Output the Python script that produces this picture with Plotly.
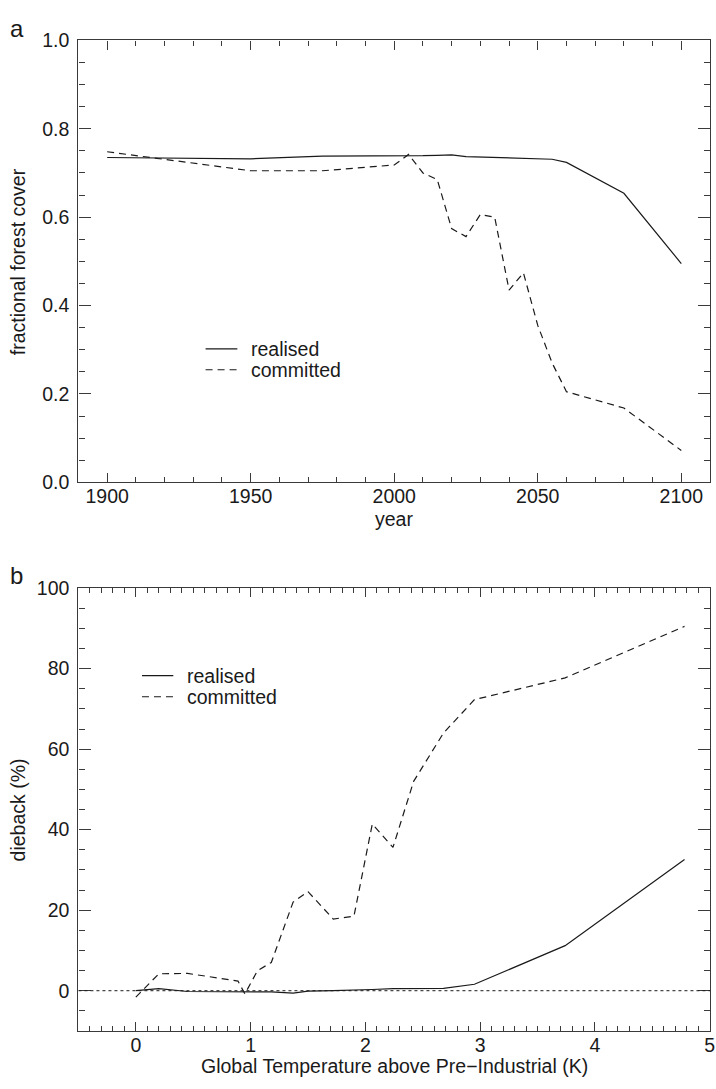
import plotly.graph_objects as go

# ---- panel a: forest cover through time ----
years = [1900, 1950, 1975, 2000, 2005, 2010, 2015, 2020, 2025, 2030,
         2035, 2040, 2045, 2050, 2055, 2060, 2080, 2100]
cover_realised = [0.735, 0.732, 0.738, 0.738, 0.739, 0.739, 0.740, 0.741, 0.737, 0.736,
                  0.736, 0.735, 0.733, 0.733, 0.731, 0.724, 0.654, 0.495]
cover_committed = [0.748, 0.705, 0.705, 0.718, 0.742, 0.700, 0.685, 0.574, 0.556, 0.606,
                   0.600, 0.435, 0.474, 0.355, 0.270, 0.205, 0.168, 0.072]

# ---- panel b: dieback against global warming ----
warming = [0.0, 0.20, 0.45, 0.89, 0.95, 1.06, 1.18, 1.37, 1.50, 1.72,
           1.90, 2.06, 2.24, 2.42, 2.68, 2.95, 3.74, 4.78]
dieback_realised = [0.0, 0.5, -0.2, -0.2, -0.3, -0.3, -0.3, -0.6, -0.1, 0.0,
                    0.1, 0.3, 0.5, 0.5, 0.6, 1.6, 11.2, 32.6]
dieback_committed = [-1.6, 4.2, 4.3, 2.4, -0.8, 5.0, 7.0, 22.0, 24.6, 17.8,
                     18.5, 41.4, 35.6, 52.0, 64.0, 72.3, 77.7, 90.5]

year_ticks = [1900, 1950, 2000, 2050, 2100]
cover_ticks = [0.0, 0.2, 0.4, 0.6, 0.8, 1.0]
warming_ticks = [0, 1, 2, 3, 4, 5]
dieback_ticks = [0, 20, 40, 60, 80, 100]

FONT = "Liberation Sans, Arial, Helvetica, sans-serif"
FS = 19.5
INK = "#1a1a1a"
AXIS = "#3a3a3a"
DASH = "7px,5px"

W, H = 716, 1089
X0, X1 = 79, 715           # plot area, left/right in px
A_TOP, A_BOT = 30, 481     # panel a, top/bottom in px
B_TOP, B_BOT = 589, 1041   # panel b

fig = go.Figure()

fig.add_trace(go.Scatter(x=years, y=cover_realised, mode="lines", name="realised",
                         line=dict(color=INK, width=1.2), xaxis="x", yaxis="y",
                         showlegend=False))
fig.add_trace(go.Scatter(x=years, y=cover_committed, mode="lines", name="committed",
                         line=dict(color=INK, width=1.2, dash=DASH), xaxis="x", yaxis="y",
                         showlegend=False))
fig.add_trace(go.Scatter(x=warming, y=dieback_realised, mode="lines", name="realised",
                         line=dict(color=INK, width=1.2), xaxis="x2", yaxis="y2",
                         showlegend=False))
fig.add_trace(go.Scatter(x=warming, y=dieback_committed, mode="lines", name="committed",
                         line=dict(color=INK, width=1.2, dash=DASH), xaxis="x2", yaxis="y2",
                         showlegend=False))


xdom = [X0 / W, X1 / W]
ydom_a = [1 - A_BOT / H, 1 - A_TOP / H]
ydom_b = [1 - B_BOT / H, 1 - B_TOP / H]

common = dict(
    showline=True, linecolor=AXIS, linewidth=1.4, mirror="allticks",
    ticks="inside", tickcolor=AXIS, tickwidth=1.2,
    showgrid=False, zeroline=False, ticklabeloverflow="allow",
    tickfont=dict(family=FONT, size=FS, color=INK),
)


def minor(step, length):
    return dict(ticks="inside", dtick=step, tick0=0, ticklen=length,
                tickcolor=AXIS, tickwidth=1.1)


fig.update_layout(
    width=W, height=H,
    margin=dict(l=0, r=0, t=0, b=0),
    paper_bgcolor="white", plot_bgcolor="white",
    font=dict(family=FONT, size=FS, color=INK),
    xaxis=dict(domain=xdom, anchor="y", range=[1890, 2110],
               tickvals=year_ticks, ticklen=9, minor=minor(10, 5),
               ticklabelstandoff=-4, **common),
    yaxis=dict(domain=ydom_a, anchor="x", range=[0, 1.0],
               tickvals=cover_ticks, tickformat=".1f", ticklen=12,
               minor=minor(0.05, 6), ticklabelstandoff=4, **common),
    xaxis2=dict(domain=xdom, anchor="y2", range=[-0.5, 5.002],
                tickvals=warming_ticks, ticklen=9, minor=minor(0.1, 5),
                ticklabelstandoff=-4, **common),
    yaxis2=dict(domain=ydom_b, anchor="x2", range=[-10, 100],
                tickvals=dieback_ticks, ticklen=12,
                minor=minor(5, 6), ticklabelstandoff=4, **common),
)

# dotted zero line in panel b
fig.add_shape(type="line", xref="x2 domain", yref="y2", x0=0, x1=1, y0=0, y1=0,
              line=dict(color=INK, width=1, dash="dot"))

annotations = []


def text(x, y, s, xref="paper", yref="paper", size=FS, xanchor="center",
         yanchor="middle", angle=0, height=None):
    ann = dict(x=x, y=y, xref=xref, yref=yref, text=s, showarrow=False,
               xanchor=xanchor, yanchor=yanchor, textangle=angle, borderpad=0,
               font=dict(family=FONT, size=size, color=INK))
    if height:
        ann["height"] = height
    annotations.append(ann)


# panel letters
text(9 / W, 1 - 18 / H, "a", size=24, xanchor="left")
text(9 / W, 1 - 576 / H, "b", size=24, xanchor="left")

# axis titles
text(18 / W, 1 - (A_TOP + A_BOT) / 2 / H, "fractional forest cover", angle=-90)
text(0.5 * (X0 + X1) / W, 1 - 518 / H, "year")
text(18 / W, 1 - (B_TOP + B_BOT) / 2 / H, "dieback (%)", angle=-90)
text(0.5 * (X0 + X1) / W, 0, "Global Temperature above Pre\u2212Industrial (K)",
     yanchor="bottom")

# legends (drawn inside each panel)
legend_items = [("realised", None), ("committed", DASH)]
legend_pos = {
    ("x", "y"): dict(x0=0.2013, x1=0.2516, xt=0.2712, ys=[0.3020, 0.2547]),
    ("x2", "y2"): dict(x0=0.1006, x1=0.1502, xt=0.1706, ys=[0.8022, 0.7547]),
}
for (xa, ya), p in legend_pos.items():
    for (label, dash), yy in zip(legend_items, p["ys"]):
        line = dict(color=INK, width=1.2)
        if dash:
            line["dash"] = dash
        fig.add_shape(type="line", xref=f"{xa} domain", yref=f"{ya} domain",
                      x0=p["x0"], x1=p["x1"], y0=yy, y1=yy, line=line)
        text(p["xt"], yy, label, xref=f"{xa} domain", yref=f"{ya} domain",
             xanchor="left", height=18)

fig.update_layout(annotations=annotations)

fig.write_html("out.html")
